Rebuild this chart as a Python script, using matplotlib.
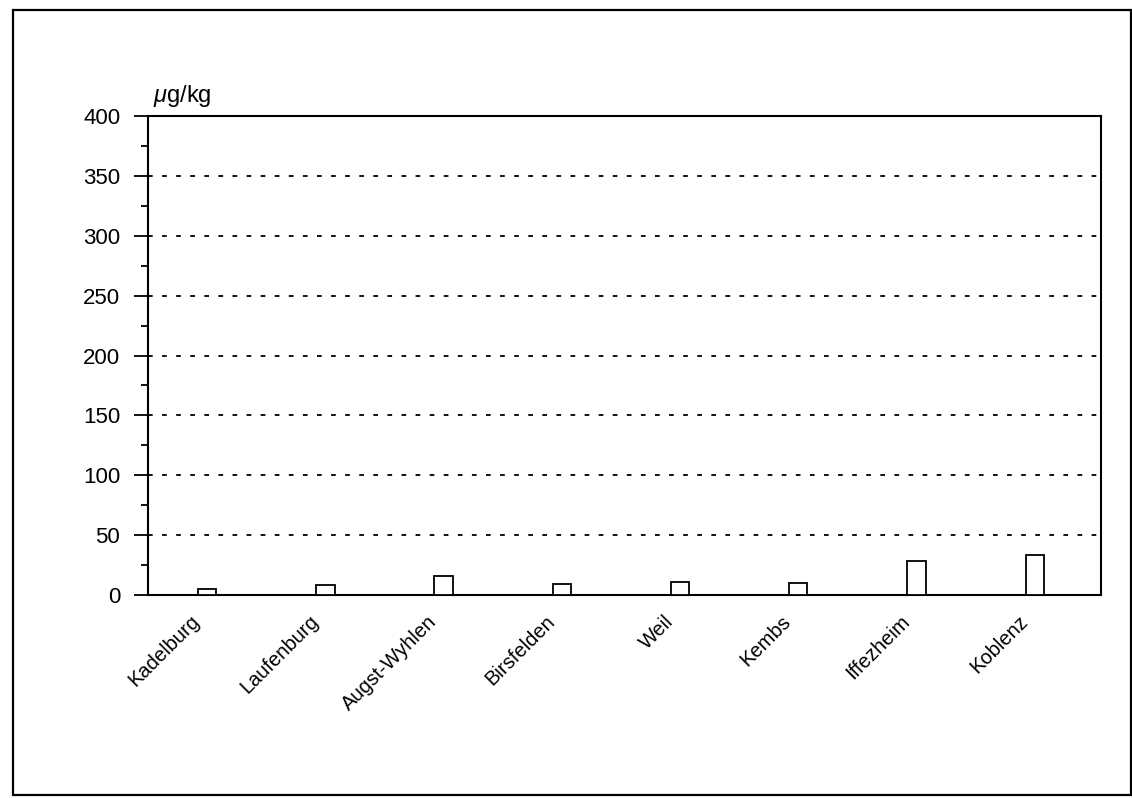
import matplotlib
matplotlib.use("Agg")
import matplotlib.pyplot as plt
import matplotlib.transforms as mtransforms
from matplotlib.patches import Rectangle
from matplotlib.ticker import MultipleLocator

# Sampling sites along the Rhine and measured concentration (µg/kg)
sites = ["Kadelburg", "Laufenburg", "Augst-Wyhlen", "Birsfelden",
         "Weil", "Kembs", "Iffezheim", "Koblenz"]
values = [5, 8, 16, 9, 11, 10, 28, 33]
y_ticks = [0, 50, 100, 150, 200, 250, 300, 350, 400]
unit_label = "$\\mu$g/kg"

plt.rcParams["font.family"] = ["Liberation Sans", "DejaVu Sans"]
plt.rcParams["mathtext.fontset"] = "custom"
plt.rcParams["mathtext.it"] = "Liberation Sans:italic"
plt.rcParams["mathtext.rm"] = "Liberation Sans"

W, H = 1132, 798
fig = plt.figure(figsize=(W / 100, H / 100), dpi=100)
fig.patch.set_facecolor("white")

# page frame
fig.add_artist(Rectangle((13 / W, 1 - 795 / H), (1131 - 13) / W, (795 - 10) / H,
                         transform=fig.transFigure, fill=False,
                         edgecolor="black", linewidth=1.6))

ax = fig.add_axes([148 / W, 1 - 595 / H, (1101 - 148) / W, (595 - 116) / H])
x = list(range(len(sites)))

ax.bar(x, values, width=0.155, facecolor="white", edgecolor="black",
       linewidth=1.3, zorder=3)

ax.set_xlim(-0.5, 7.56)
ax.set_ylim(0, 400)

# dashed horizontal reference lines
for v in y_ticks[1:-1]:
    ax.axhline(v, color="black", linewidth=1.3, dashes=(2.6, 5.2), zorder=1)

for side in ["left", "right", "top", "bottom"]:
    ax.spines[side].set_linewidth(1.5)

ax.set_yticks(y_ticks)
ax.yaxis.set_minor_locator(MultipleLocator(25))
ax.tick_params(axis="y", which="major", direction="out", length=10,
               width=1.3, labelsize=16, pad=10)
ax.tick_params(axis="y", which="minor", direction="out", length=5, width=1.3)

ax.set_xticks(x)
ax.set_xticklabels(sites, rotation=45, ha="right", va="center",
                   rotation_mode="anchor", fontsize=14.5)
ax.tick_params(axis="x", length=0, pad=17)
shift = mtransforms.ScaledTranslation(-10 / 100, 0, fig.dpi_scale_trans)
for lbl in ax.get_xticklabels():
    lbl.set_transform(lbl.get_transform() + shift)

ax.text(0.005, 1.015, unit_label, transform=ax.transAxes, ha="left",
        va="bottom", fontsize=17)

fig.savefig("out.png", dpi=100, facecolor="white")
